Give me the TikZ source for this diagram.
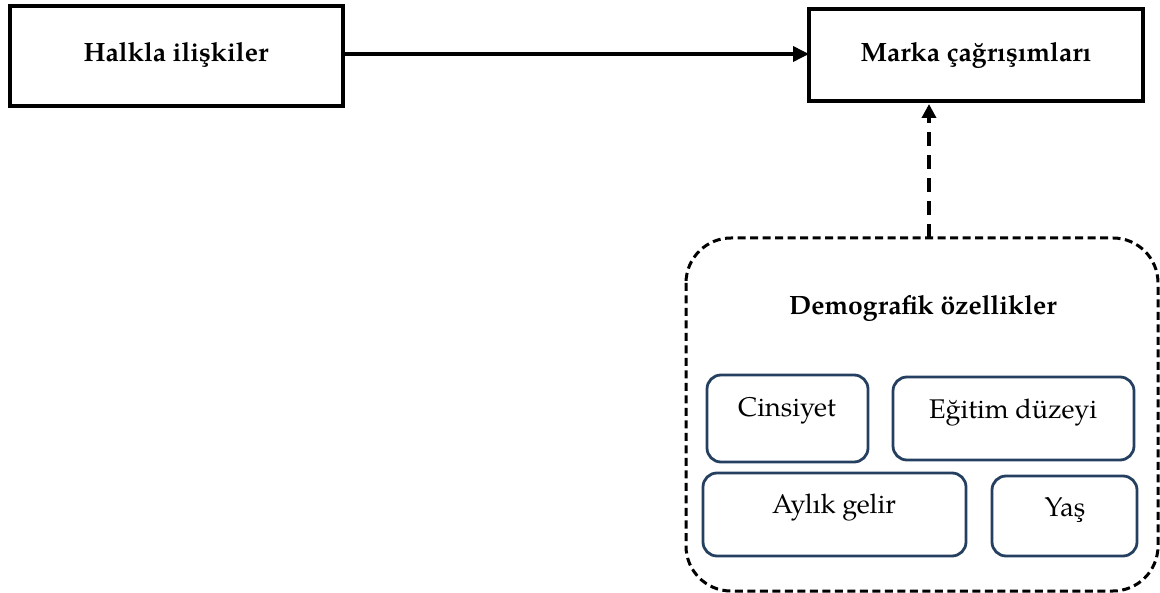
\documentclass[tikz,border=0pt]{standalone}
\usepackage{fontspec}
\setmainfont{TeX Gyre Pagella}
\usetikzlibrary{arrows.meta}
\definecolor{navy}{RGB}{36,63,96}
\begin{document}
\begin{tikzpicture}[x=1pt,y=-1pt,
  mainbox/.style={draw=black,line width=3.6pt,inner sep=0pt},
  subbox/.style={draw=navy,line width=2.8pt,rounded corners=14pt,inner sep=0pt},
  lbl/.style={font=\fontsize{26.5}{30}\selectfont\bfseries},
  txt/.style={font=\fontsize{27}{31}\selectfont}]
\useasboundingbox (0,0) rectangle (1160,593);
% main boxes
\draw[mainbox] (10,6) rectangle (343,106);
\node[lbl] (halkla) at (176,55) {Halkla ilişkiler};
\coordinate (hR) at (343,54);
\draw[mainbox] (809,9) rectangle (1143,101);
\node[lbl] (marka) at (976,55) {Marka çağrışımları};
\coordinate (mL) at (809,54);
\coordinate (mB) at (929,104);
% arrow
\draw[line width=3.6pt,-{Triangle[length=16pt,width=15pt]}] (hR) -- (mL);
% dashed container
\draw[line width=3pt,dash pattern=on 8pt off 4.5pt,rounded corners=45pt] (686,238) rectangle (1158,591);
\coordinate (dT) at (929,238);
\draw[line width=3.8pt,dash pattern=on 14pt off 9pt,-{Triangle[length=14pt,width=14pt]}] (dT) -- (mB);
\node[lbl] (demo) at (923,308) {Demografik özellikler};
% sub boxes
\draw[subbox] (707,375) rectangle (868,462);
\node[txt] (cins) at (787,411) {Cinsiyet};
\draw[subbox] (893,377) rectangle (1134,460);
\node[txt] (egit) at (1013,413) {Eğitim düzeyi};
\draw[subbox] (703,473) rectangle (966,556);
\node[txt] (aylik) at (834,508) {Aylık gelir};
\draw[subbox] (992,476) rectangle (1137,556);
\node[txt] (yas) at (1065,510) {Yaş};
\end{tikzpicture}
\end{document}
